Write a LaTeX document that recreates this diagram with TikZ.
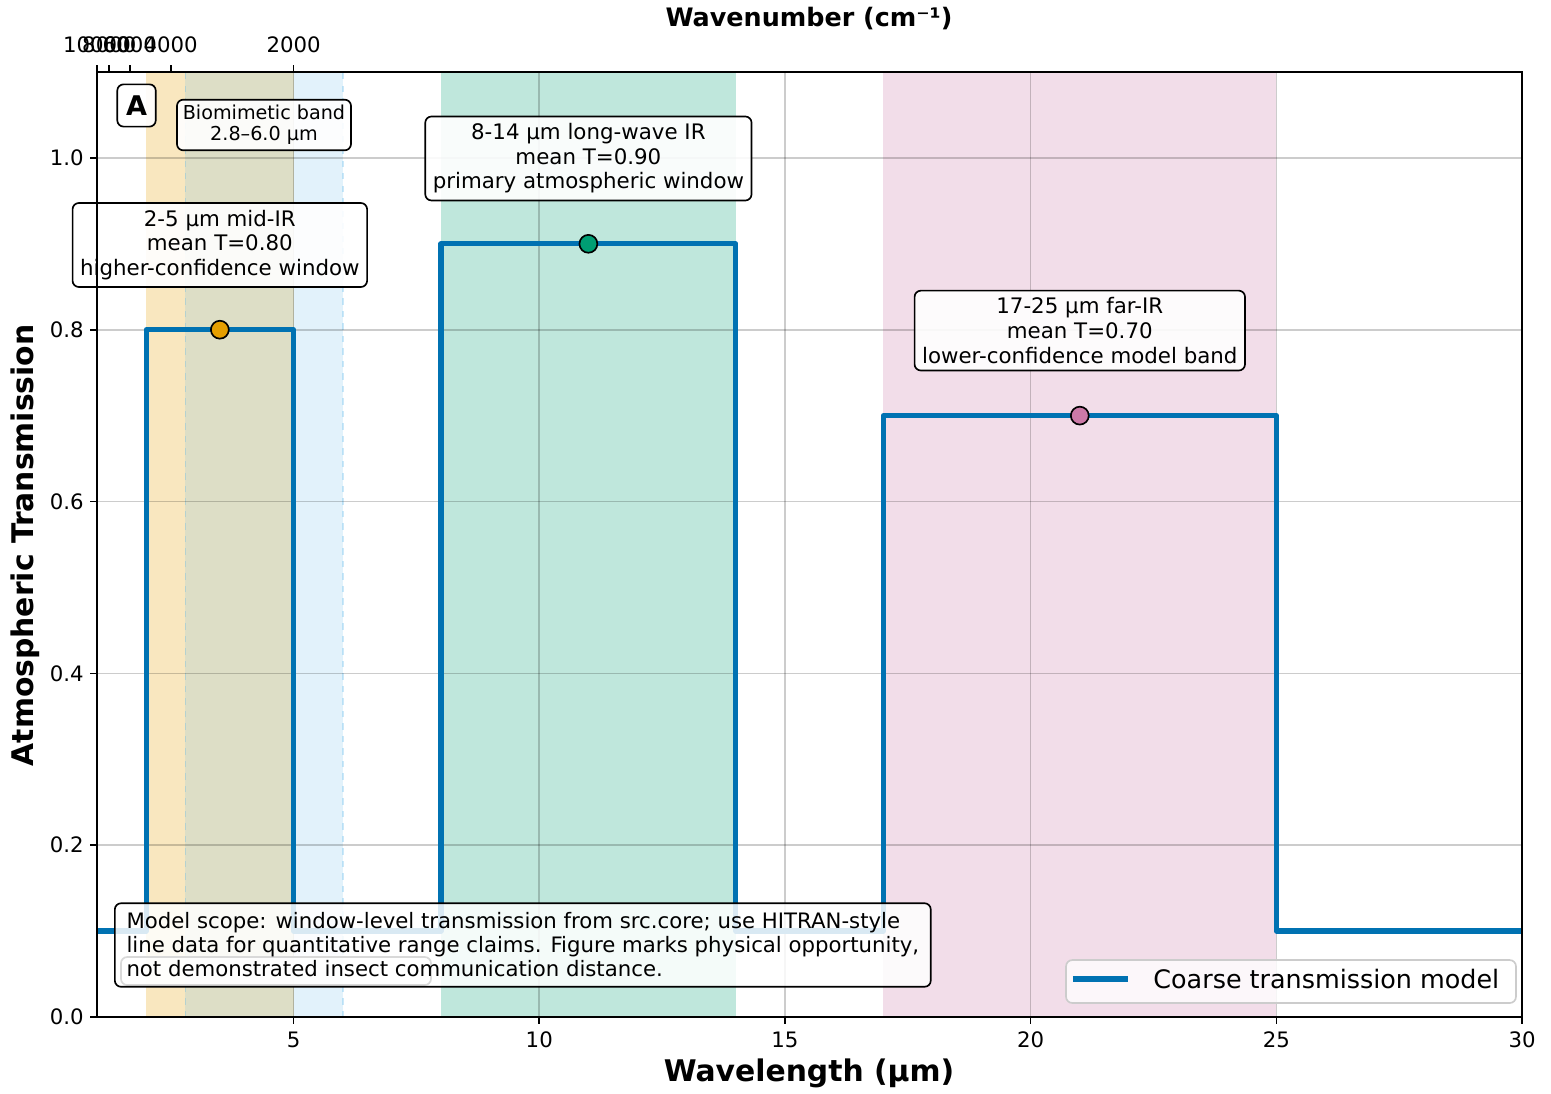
\documentclass[tikz,border=0pt]{standalone}
\usepackage{fontspec}
\setmainfont{DejaVu Sans}
\usetikzlibrary{positioning}

\definecolor{modelblue}{HTML}{0072B2}
\definecolor{midorange}{HTML}{E69F00}
\definecolor{lwgreen}{HTML}{009E73}
\definecolor{farpink}{HTML}{CC79A7}
\definecolor{bioblue}{HTML}{56B4E9}

\tikzset{
  gridline/.style={black, opacity=0.2, line width=0.8pt},
  spine/.style={black, line width=0.8pt},
  ticklabel/.style={font=\fontsize{10.2}{12}\selectfont, inner sep=0pt},
  bandbox/.style={draw=black, fill=white, fill opacity=0.9, text opacity=1,
    rounded corners=3pt, line width=0.8pt, inner xsep=3.6pt, inner ysep=3.4pt,
    align=center, font=\fontsize{10.25}{11.8}\selectfont},
  windowmark/.style={circle, draw=black, line width=0.8pt, minimum size=8.6pt, inner sep=0pt},
}

\begin{document}
\begin{tikzpicture}[x=23.587pt, y=412.37pt]
  \useasboundingbox (-0.974,-0.0885) rectangle (30.589,1.1838);

  % spectral bands
  \fill [midorange, opacity=0.25] (2,0) rectangle (5,1.1);
  \fill [lwgreen, opacity=0.25] (8,0) rectangle (14,1.1);
  \fill [farpink, opacity=0.25] (17,0) rectangle (25,1.1);
  \fill [bioblue, opacity=0.17] (2.8,0) rectangle (6,1.1);
  \draw [bioblue, opacity=0.3, dashed, line width=0.8pt] (2.8,0) -- (2.8,1.1);
  \draw [bioblue, opacity=0.3, dashed, line width=0.8pt] (6,0) -- (6,1.1);

  % grid
  \foreach \gx in {5,10,15,20,25}
    \draw [gridline] (\gx,0) -- (\gx,1.1);
  \foreach \gy in {0.2,0.4,0.6,0.8,1.0}
    \draw [gridline] (1,\gy) -- (30,\gy);

  % box mostly hidden behind the scope note
  \draw [draw=black, fill=white, fill opacity=0.8, rounded corners=3pt, line width=0.8pt]
    (1.488,0.0372) rectangle (7.797,0.0698);

  % coarse model
  \draw [modelblue, line width=2.5pt, line join=round]
    (1,0.1) -- (2,0.1) -- (2,0.8) -- (5,0.8) -- (5,0.1) -- (8,0.1) -- (8,0.9)
    -- (14,0.9) -- (14,0.1) -- (17,0.1) -- (17,0.7) -- (25,0.7) -- (25,0.1) -- (30,0.1);

  \node [windowmark, fill=midorange] (markmid) at (3.5,0.8) {};
  \node [windowmark, fill=lwgreen] (marklw) at (11,0.9) {};
  \node [windowmark, fill=farpink] (markfar) at (21,0.7) {};

  % window notes
  \node [bandbox] (notemid) at (3.5,0.8986) {2-5 µm mid-IR\\mean T=0.80\\higher-confidence window};
  \node [bandbox] (notelw) at (11,0.9993) {8-14 µm long-wave IR\\mean T=0.90\\primary atmospheric window};
  \node [bandbox] (notefar) at (21,0.799) {17-25 µm far-IR\\mean T=0.70\\lower-confidence model band};
  \node [bandbox, font=\fontsize{9.2}{10.2}\selectfont, inner xsep=2.8pt, inner ysep=2.6pt]
    (notebio) at (4.398,1.0383) {Biomimetic band\\2.8–6.0 µm};
  \node [bandbox, font=\fontsize{13}{15}\bfseries, inner xsep=4.2pt, inner ysep=5.4pt]
    (panel) at (1.804,1.061) {A};

  \node [bandbox, fill opacity=0.85, anchor=west, align=left, font=\fontsize{10.2}{11.5}\selectfont,
    inner xsep=5.6pt, inner ysep=4.6pt] (scope) at (1.346,0.0838)
    {Model scope: window-level transmission from src.core; use HITRAN-style\\
     line data for quantitative range claims. Figure marks physical opportunity,\\
     not demonstrated insect communication distance.};

  % legend
  \draw [draw=black!20, fill=white, fill opacity=0.8, rounded corners=3pt, line width=0.8pt]
    (20.72,0.0163) rectangle (29.876,0.0663);
  \coordinate (legstart) at (20.86,0.0442);
  \coordinate (legend) at (21.98,0.0442);
  \draw [modelblue, line width=2.5pt] (legstart) -- (legend);
  \node [anchor=west, inner sep=0pt, font=\fontsize{12.2}{14}\selectfont] (legtext)
    at (22.49,0.0442) {Coarse transmission model};

  % axes frame
  \draw [spine] (1,0) rectangle (30,1.1);

  % bottom ticks
  \foreach \tx in {5,10,15,20,25,30} {
    \draw [spine] (\tx,0) -- (\tx,-0.0085);
    \node [ticklabel] (xt\tx) at (\tx,-0.0268) {\tx};
  }
  % left ticks
  \foreach \ty in {0.0,0.2,0.4,0.6,0.8,1.0} {
    \draw [spine] (1,\ty) -- (0.851,\ty);
    \node [ticklabel, anchor=east] (yt\ty) at (0.7355,\ty) {\ty};
  }
  % top ticks (wavenumber)
  \foreach \lam/\wn in {1/10000,1.25/8000,1.6667/6000,2.5/4000,5/2000} {
    \draw [spine] (\lam,1.1) -- (\lam,1.1085);
    \node [ticklabel] (wt\wn) at (\lam,1.1314) {\wn};
  }

  % axis titles
  \node [font=\fontsize{14.3}{16}\bfseries] (xlabel) at (15.49,-0.0652) {Wavelength (µm)};
  \node [font=\fontsize{12.2}{14}\bfseries] (toplabel) at (15.49,1.1617) {Wavenumber (cm⁻¹)};
  \node [font=\fontsize{14.3}{16}\bfseries, rotate=90] (ylabel) at (-0.465,0.549) {Atmospheric Transmission};
\end{tikzpicture}
\end{document}
